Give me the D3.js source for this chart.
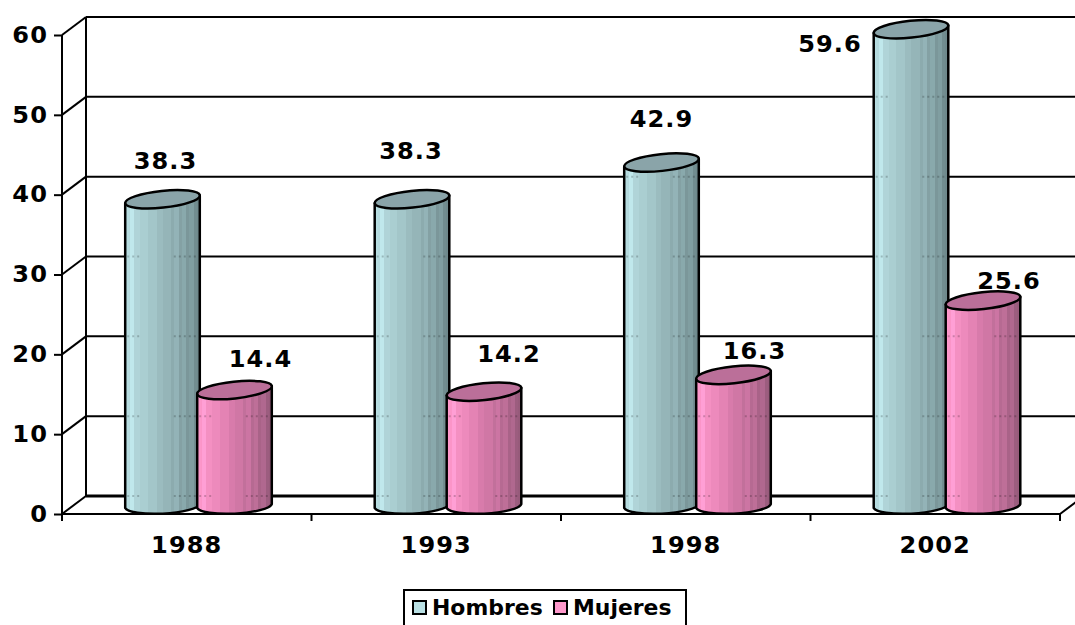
<!DOCTYPE html>
<html lang="es">
<head>
<meta charset="UTF-8" />
<script src="https://d3js.org/d3.v7.min.js"></script>
<title>Hombres y Mujeres</title>
<style>
  html, body { margin: 0; padding: 0; background: #fff; overflow: hidden; }
  svg { display: block; }
  text { font-family: "DejaVu Sans", sans-serif; font-weight: bold; fill: #000; }
</style>
</head>
<body>
<script>
var years = ["1988", "1993", "1998", "2002"];
var seriesNames = ["Hombres", "Mujeres"];
var hombres = [38.3, 38.3, 42.9, 59.6];
var mujeres = [14.4, 14.2, 16.3, 25.6];
var yTicks = [0, 10, 20, 30, 40, 50, 60];

var width = 1075, height = 625;
var x0 = 62, x1 = 1060, yBase = 514, yTop = 35;
var depthX = 24, depthY = 18;    // how far the back wall sits behind the axes
var rx = 37.5, ry = 8.4, tilt = -6;    // cylinder cap
var fontScale = 1.07;    // the type is a little wider than it is tall
var fontSize = 22.5;

var colors = {
  Hombres: { ramp: ["#b8dee2", "#a0c2c5", "#8aa8ab", "#6b8588"], top: "#8aa4a9", swatch: "#b9e0e4" },
  Mujeres: { ramp: ["#ff99cc", "#e07fb0", "#bf6e99", "#925877"], top: "#bb6f99", swatch: "#ff99cc" }
};
// fixed label offsets from the top of each cylinder, in the order of the years
var labelOffsets = {
  Hombres: [[3, -38], [-1, -48], [0, -44], [-81, 15]],
  Mujeres: [[26, -31], [25, -38], [21, -24], [26, -20]]
};

var svg = d3.select("body").append("svg").attr("width", width).attr("height", height);

var x = d3.scaleBand().domain(years).range([x0, x1]);
var xInner = d3.scalePoint().domain(seriesNames).range([100.5, 172.5]);
var y = d3.scaleLinear().domain([0, 60]).range([yBase, yTop]);

// banded shading for the cylinder bodies
var defs = svg.append("defs");
var bands = [0, .03, .05, .07, .12, .2, .3, .42, .5, .62, .66, .72, .76, .82, .86, .92, .96, 1];
var light = [.07, .66, .76, .86];
seriesNames.forEach(function (name) {
  var ramp = d3.scaleLinear().domain([0, .35, .65, 1]).range(colors[name].ramp);
  var grad = defs.append("linearGradient").attr("id", "body-" + name);
  bands.slice(0, -1).forEach(function (b, i) {
    var c = ramp(b);
    if (light.indexOf(b) >= 0) c = d3.color(c).brighter(0.2).formatHex();
    grad.append("stop").attr("offset", b).attr("stop-color", c);
    grad.append("stop").attr("offset", bands[i + 1]).attr("stop-color", c);
  });
});

// back wall and its gridlines
var wall = svg.append("g").attr("fill", "none").attr("stroke", "#000").attr("stroke-width", 2);
wall.selectAll("line.grid").data(yTicks).join("line").attr("class", "grid")
  .attr("x1", x0 + depthX).attr("x2", width)
  .attr("y1", function (d) { return y(d) - depthY; })
  .attr("y2", function (d) { return y(d) - depthY; })
  .attr("stroke-width", function (d) { return d === 0 ? 3 : 2; });
wall.selectAll("line.depth").data(yTicks).join("line").attr("class", "depth")
  .attr("x1", x0).attr("x2", x0 + depthX)
  .attr("y1", function (d) { return y(d); })
  .attr("y2", function (d) { return y(d) - depthY; });
wall.append("line").attr("x1", x0 + depthX).attr("x2", x0 + depthX)
  .attr("y1", y(60) - depthY).attr("y2", yBase - depthY);
wall.append("line").attr("x1", x1).attr("x2", x1 + depthX)
  .attr("y1", yBase).attr("y2", yBase - depthY);

// axes
var axisY = svg.append("g").attr("transform", "translate(" + x0 + ",0)")
  .call(d3.axisLeft(y).tickValues(yTicks).tickSize(8).tickPadding(0).tickSizeOuter(0));
var axisX = svg.append("g").attr("transform", "translate(0," + yBase + ")")
  .call(d3.axisBottom(x).tickSize(0).tickPadding(0).tickSizeOuter(0));
svg.selectAll(".domain").attr("stroke", "#000").attr("stroke-width", 2);
axisY.selectAll("line").attr("stroke", "#000").attr("stroke-width", 2);
axisY.select(".domain").attr("d", "M0," + y(60) + "V" + (yBase + 7));
axisX.select(".domain").attr("d", "M" + x0 + ",0H" + x1);
axisX.selectAll("line.sep").data(d3.range(years.length + 1)).join("line").attr("class", "sep")
  .attr("stroke", "#000").attr("stroke-width", 2)
  .attr("x1", function (i) { return x0 + i * x.step(); })
  .attr("x2", function (i) { return x0 + i * x.step(); })
  .attr("y1", 0).attr("y2", 7);

function wide(sel, tx, ty) {
  sel.attr("x", 0).attr("y", 0).attr("dy", 0)
    .attr("transform", "translate(" + tx + "," + ty + ") scale(" + fontScale + ",1)");
}
axisY.selectAll(".tick text").attr("font-size", fontSize).attr("font-family", null).attr("text-anchor", "end")
  .attr("dominant-baseline", "central")
  .each(function () { wide(d3.select(this), -14, -1); });
axisX.selectAll(".tick text").attr("font-size", fontSize).attr("font-family", null).attr("text-anchor", "middle")
  .attr("dominant-baseline", "central")
  .each(function () { wide(d3.select(this), 0, 31); });
svg.selectAll(".tick text").attr("letter-spacing", 1);

// cylinders, men first so the women's cylinder overlaps
var rows = [];
years.forEach(function (yr, i) {
  rows.push({ year: yr, i: i, name: "Hombres", value: hombres[i] });
  rows.push({ year: yr, i: i, name: "Mujeres", value: mujeres[i] });
});
var rad = tilt * Math.PI / 180;
var ex = rx * Math.cos(rad), ey = rx * Math.sin(rad);
var capOffset = 9;

var cyl = svg.selectAll("g.cyl").data(rows).join("g").attr("class", "cyl")
  .attr("transform", function (d) { return "translate(" + (x(d.year) + xInner(d.name)) + ",0)"; });

cyl.append("path")
  .attr("fill", function (d) { return "url(#body-" + d.name + ")"; })
  .attr("stroke", "#000").attr("stroke-width", 2.5).attr("stroke-linejoin", "round")
  .attr("d", function (d) {
    var t = y(d.value) - capOffset, b = y(0) - capOffset + 1;
    return "M" + (-ex) + "," + (t - ey) + "L" + (-ex) + "," + (b - ey * 0.5) +
      "A" + rx + "," + ry + " -3 0 0 " + ex + "," + (b + ey * 0.5) +
      "L" + ex + "," + (t + ey) + "Z";
  });

// gridlines show faintly through the cylinders as dotted traces
cyl.each(function (d) {
  var g = d3.select(this);
  yTicks.forEach(function (v) {
    var gy = y(v) - depthY;
    if (gy < y(d.value) - capOffset + 10) return;
    [[-ex + 2, -ex + 14], [ex - 26, ex - 2]].forEach(function (seg) {
      g.append("line").attr("x1", seg[0]).attr("x2", seg[1]).attr("y1", gy).attr("y2", gy)
        .attr("stroke", "#000").attr("stroke-opacity", 0.2).attr("stroke-width", 2)
        .attr("stroke-dasharray", "2 3");
    });
  });
});

cyl.append("ellipse")
  .attr("rx", rx).attr("ry", ry)
  .attr("transform", function (d) {
    return "translate(0," + (y(d.value) - capOffset) + ") rotate(" + tilt + ")";
  })
  .attr("fill", function (d) { return colors[d.name].top; })
  .attr("stroke", "#000").attr("stroke-width", 2.5);

// value labels
cyl.append("text")
  .attr("font-size", fontSize).attr("text-anchor", "middle").attr("dominant-baseline", "central")
  .attr("letter-spacing", 1)
  .text(function (d) { return d.value.toFixed(1); })
  .each(function (d) {
    var o = labelOffsets[d.name][d.i];
    wide(d3.select(this), o[0], y(d.value) - capOffset + o[1]);
  });

// legend, its box runs off the bottom edge
var legend = svg.append("g");
legend.append("rect").attr("x", 404).attr("y", 590).attr("width", 282).attr("height", 50)
  .attr("fill", "#fff").attr("stroke", "#000").attr("stroke-width", 2);
var legendX = d3.scalePoint().domain(seriesNames).range([412, 553]);
var item = legend.selectAll("g.item").data(seriesNames).join("g").attr("class", "item")
  .attr("transform", function (d) { return "translate(" + legendX(d) + ",0)"; });
item.append("rect").attr("x", 1).attr("y", 601).attr("width", 13).attr("height", 13)
  .attr("fill", function (d) { return colors[d].swatch; })
  .attr("stroke", "#000").attr("stroke-width", 2);
item.append("text").attr("font-size", 20.5).attr("dominant-baseline", "central")
  .attr("textLength", null)
  .text(function (d) { return d; })
  .each(function () { wide(d3.select(this), 20, 608); });
</script>
</body>
</html>
